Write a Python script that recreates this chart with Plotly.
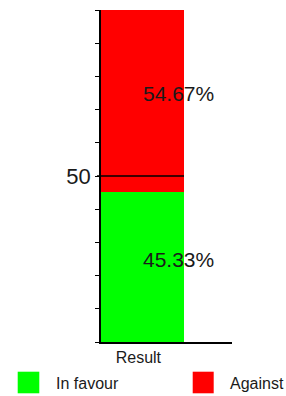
import plotly.graph_objects as go

categories = ["Result"]
series_names = ["In favour", "Against"]
series_values = [[45.33], [54.67]]
series_colors = ["#00ff00", "#ff0000"]
y_tick_values = [0, 10, 20, 30, 40, 50, 60, 70, 80, 90, 100]
y_tick_labels = ["", "", "", "", "", "50", "", "", "", "", ""]
divider_value = 50

W, H = 286, 396
L, R, T, B = 101, 54, 10, 54
pw, ph = W - L - R, H - T - B


def px_x(p):
    return (p - L) / pw


def px_y(p):
    return (H - B - p) / ph


bar_px = 83
x_max = pw / bar_px
font = "Liberation Sans, Arial, sans-serif"

fig = go.Figure()
base = 0
annotations = []
for name, vals, col in zip(series_names, series_values, series_colors):
    fig.add_trace(go.Bar(
        x=[0.5], y=vals, width=1, name=name, marker=dict(color=col, line=dict(width=0)),
        showlegend=False, hoverinfo="skip",
    ))
    annotations.append(dict(
        x=0.5, y=base + vals[0] / 2, xref="x", yref="y", text=f"{vals[0]:.2f}%",
        showarrow=False, xanchor="left", yanchor="middle", yshift=7, xshift=-2,
        font=dict(family=font, size=21, color="#1a1a1a"),
    ))
    base += vals[0]

# manual legend
legend_boxes = [(17.7, 39.3), (192.7, 213.7)]
legend_text_x = [54, 228]
shapes = []
for (x0, x1), tx, name, col in zip(legend_boxes, legend_text_x, series_names, series_colors):
    shapes.append(dict(type="rect", xref="paper", yref="paper",
                       x0=px_x(x0), x1=px_x(x1), y0=px_y(393.3), y1=px_y(371.7),
                       fillcolor=col, line=dict(width=0)))
    annotations.append(dict(x=px_x(tx), y=px_y(383), xref="paper", yref="paper", text=name,
                            showarrow=False, xanchor="left", yanchor="middle",
                            font=dict(family=font, size=16, color="#1a1a1a")))

# divider line at 50
shapes.append(dict(type="line", xref="paper", yref="y", x0=px_x(97), x1=px_x(L + bar_px),
                   y0=divider_value, y1=divider_value, line=dict(color="black", width=1.5)))

fig.update_layout(
    barmode="stack",
    width=W, height=H,
    margin=dict(l=L, r=R, t=T, b=B, pad=0),
    paper_bgcolor="white", plot_bgcolor="white",
    bargap=0,
    shapes=shapes,
    annotations=annotations,
    xaxis=dict(range=[0, x_max], showgrid=False, zeroline=False, showline=True,
               linecolor="black", linewidth=1.5, tickvals=[0.45], ticktext=categories,
               ticks="", tickfont=dict(family=font, size=16, color="#1a1a1a"), fixedrange=True),
    yaxis=dict(range=[0, 100], showgrid=False, zeroline=False, showline=True,
               linecolor="black", linewidth=1.5, tickvals=y_tick_values, ticktext=y_tick_labels,
               ticks="outside", ticklen=4, tickcolor="black", tickwidth=1,
               tickfont=dict(family=font, size=22, color="#1a1a1a"), fixedrange=True),
)

fig.write_html("out.html", config={"displayModeBar": False},
               post_script="document.body.style.margin='0';document.body.style.overflow='hidden';")
